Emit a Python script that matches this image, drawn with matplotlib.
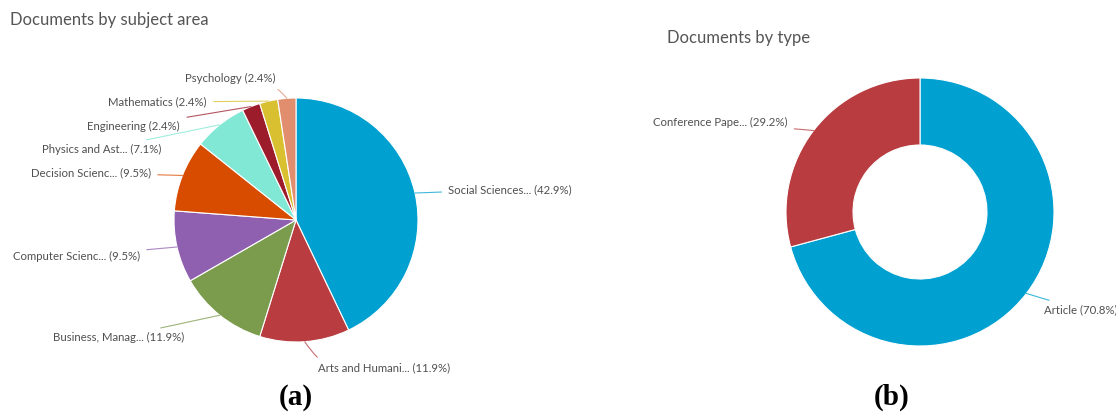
import matplotlib.pyplot as plt
import numpy as np

# data
subjects = ['Social Sciences...', 'Arts and Humani...', 'Business, Manag...',
            'Computer Scienc...', 'Decision Scienc...', 'Physics and Ast...',
            'Engineering', 'Mathematics', 'Psychology']
subject_pct = [42.9, 11.9, 11.9, 9.5, 9.5, 7.1, 2.4, 2.4, 2.4]
subject_colors = ['#00a0d0', '#b83c40', '#7b9b4d', '#9060b0', '#d84c00',
                  '#80e8d4', '#9c1c2c', '#d8c030', '#e08e6e']

doc_types = ['Article', 'Conference Pape...']
type_pct = [70.8, 29.2]
type_colors = ['#00a0d0', '#b83c40']

# label anchors (pie data units), alignment and connector bend - layout only
subject_label_pos = [(1.25, 0.25, 'left', 0), (0.18, -1.215, 'left', -0.4),
                     (-0.92, -0.96, 'right', 0), (-1.28, -0.295, 'right', 0),
                     (-1.19, 0.385, 'right', 0), (-1.10, 0.582, 'right', 0),
                     (-0.95, 0.77, 'right', 0), (-0.73, 0.967, 'right', 0),
                     (-0.17, 1.16, 'right', -0.3)]
type_label_pos = [(0.925, -0.73, 'left', 0), (-0.99, 0.67, 'right', 0)]

W, H = 1116, 415
fig = plt.figure(figsize=(W / 100, H / 100), dpi=100)
fig.patch.set_facecolor('white')

label_font = dict(family=['Lato', 'DejaVu Sans'], fontsize=8.2, color='#505050')


def pie_axes(cx, cy, r):
    return fig.add_axes([(cx - r) / W, (H - cy - r) / H, 2 * r / W, 2 * r / H])


def draw(ax, values, names, colors, label_pos, width=None):
    props = dict(edgecolor='white', linewidth=0.8)
    if width:
        props['width'] = width
    wedges, _ = ax.pie(values, colors=colors, startangle=90, counterclock=False,
                       wedgeprops=props, radius=1)
    for w, name, val, (tx, ty, ha, rad) in zip(wedges, names, values, label_pos):
        ang = np.deg2rad((w.theta1 + w.theta2) / 2)
        ax.annotate(f'{name} ({val}%)', xy=(np.cos(ang), np.sin(ang)), xytext=(tx, ty),
                    ha=ha, va='center', annotation_clip=False,
                    arrowprops=dict(arrowstyle='-', color=w.get_facecolor(), lw=0.8,
                                    alpha=0.75, shrinkA=3, shrinkB=0,
                                    connectionstyle=f'arc3,rad={rad}'),
                    **label_font)
    ax.set_xlim(-1, 1)
    ax.set_ylim(-1, 1)
    ax.axis('off')


ax1 = pie_axes(296, 220, 122)
draw(ax1, subject_pct, subjects, subject_colors, subject_label_pos)

ax2 = pie_axes(920, 212, 134)
draw(ax2, type_pct, doc_types, type_colors, type_label_pos, width=0.5)

title_font = dict(family=['Lato', 'DejaVu Sans'], fontsize=12, color='#555555', va='center')
fig.text(10 / W, 1 - 20 / H, 'Documents by subject area', **title_font)
fig.text(667 / W, 1 - 38 / H, 'Documents by type', **title_font)

cap_font = dict(family=['Liberation Serif', 'DejaVu Serif'], fontsize=21, fontweight='bold',
                ha='center', va='center')
fig.text(296 / W, 1 - 397 / H, '(a)', **cap_font)
fig.text(892 / W, 1 - 397 / H, '(b)', **cap_font)

fig.savefig('out.png', dpi=100)
